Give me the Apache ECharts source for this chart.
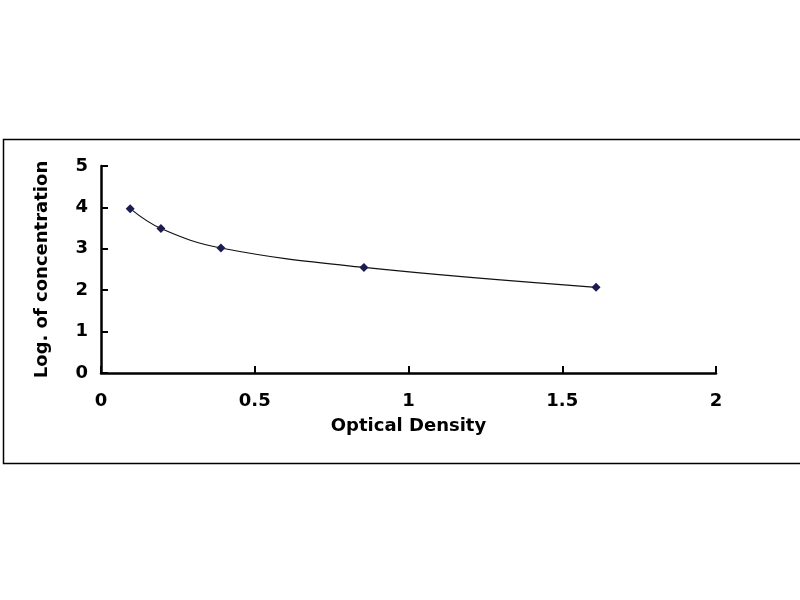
<!DOCTYPE html>
<html>
<head>
<meta charset="utf-8">
<script src="https://cdn.jsdelivr.net/npm/echarts@6/dist/echarts.min.js"></script>
<style>
html, body { margin: 0; padding: 0; background: #fff; }
#main { width: 800px; height: 600px; }
</style>
</head>
<body>
<div id="main"></div>
<script>
// standard curve data
var opticalDensity = [0.095, 0.195, 0.39, 0.855, 1.61];
var logConcentration = [3.97, 3.49, 3.02, 2.55, 2.07];

var points = opticalDensity.map(function (x, i) {
    return [x, logConcentration[i]];
});

var myChart = echarts.init(document.getElementById('main'));

var labelFont = {
    color: '#000',
    fontFamily: 'DejaVu Sans',
    fontWeight: 'bold',
    fontSize: 18
};

var option = {
    backgroundColor: '#fff',
    animation: false,
    graphic: [{
        type: 'rect',
        left: 1,
        top: 137,
        shape: { width: 810, height: 324 },
        style: { fill: 'none', stroke: '#000', lineWidth: 1.5 }
    }],
    grid: {
        left: 101,
        right: 84,
        top: 166,
        bottom: 227
    },
    xAxis: {
        type: 'value',
        min: 0,
        max: 2,
        interval: 0.5,
        name: 'Optical Density',
        nameLocation: 'middle',
        nameGap: 44,
        nameTextStyle: labelFont,
        axisLine: { lineStyle: { color: '#000', width: 2.5 } },
        axisTick: { inside: true, length: 7, lineStyle: { color: '#000', width: 2 } },
        axisLabel: Object.assign({ margin: 19 }, labelFont),
        splitLine: { show: false }
    },
    yAxis: {
        type: 'value',
        min: 0,
        max: 5,
        interval: 1,
        name: 'Log. of concentration',
        nameLocation: 'middle',
        nameGap: 50,
        nameTextStyle: labelFont,
        axisLine: { lineStyle: { color: '#000', width: 2.5 } },
        axisTick: { inside: true, length: 7, lineStyle: { color: '#000', width: 2 } },
        axisLabel: Object.assign({ margin: 13 }, labelFont),
        splitLine: { show: false }
    },
    series: [{
        type: 'line',
        data: points,
        smooth: 0.4,
        symbol: 'diamond',
        symbolSize: 9,
        itemStyle: { color: '#1c1c50' },
        lineStyle: { color: '#111', width: 1.2 }
    }]
};

myChart.setOption(option);
</script>
</body>
</html>
